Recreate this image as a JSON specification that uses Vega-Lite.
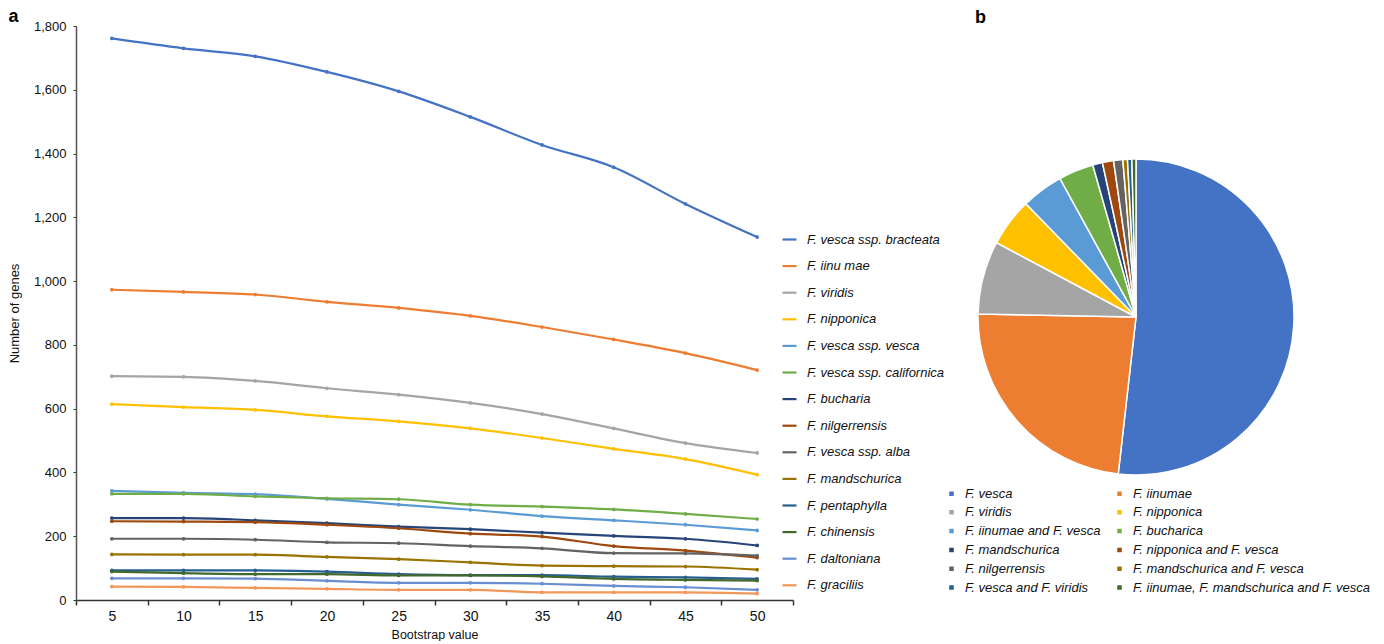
{
  "$schema": "https://vega.github.io/schema/vega-lite/v6.json",
  "padding": {"left": 8, "top": 8, "right": 0, "bottom": 0},
  "background": "white",
  "config": {"view": {"stroke": null}, "font": "Liberation Sans"},
  "bounds": "flush",
  "spacing": 185,
  "resolve": {"scale": {"color": "independent"}, "legend": {"color": "independent"}},
  "datasets": {
    "lines": [
      {"s":"F. vesca ssp. bracteata","b":5,"n":1761},{"s":"F. vesca ssp. bracteata","b":10,"n":1730},{"s":"F. vesca ssp. bracteata","b":15,"n":1705},{"s":"F. vesca ssp. bracteata","b":20,"n":1656},{"s":"F. vesca ssp. bracteata","b":25,"n":1595},{"s":"F. vesca ssp. bracteata","b":30,"n":1515},{"s":"F. vesca ssp. bracteata","b":35,"n":1427},{"s":"F. vesca ssp. bracteata","b":40,"n":1357},{"s":"F. vesca ssp. bracteata","b":45,"n":1242},{"s":"F. vesca ssp. bracteata","b":50,"n":1138},
      {"s":"F. iinu mae","b":5,"n":973},{"s":"F. iinu mae","b":10,"n":966},{"s":"F. iinu mae","b":15,"n":958},{"s":"F. iinu mae","b":20,"n":935},{"s":"F. iinu mae","b":25,"n":916},{"s":"F. iinu mae","b":30,"n":891},{"s":"F. iinu mae","b":35,"n":856},{"s":"F. iinu mae","b":40,"n":817},{"s":"F. iinu mae","b":45,"n":774},{"s":"F. iinu mae","b":50,"n":721},
      {"s":"F. viridis","b":5,"n":702},{"s":"F. viridis","b":10,"n":700},{"s":"F. viridis","b":15,"n":687},{"s":"F. viridis","b":20,"n":664},{"s":"F. viridis","b":25,"n":644},{"s":"F. viridis","b":30,"n":618},{"s":"F. viridis","b":35,"n":583},{"s":"F. viridis","b":40,"n":538},{"s":"F. viridis","b":45,"n":492},{"s":"F. viridis","b":50,"n":461},
      {"s":"F. nipponica","b":5,"n":614},{"s":"F. nipponica","b":10,"n":605},{"s":"F. nipponica","b":15,"n":596},{"s":"F. nipponica","b":20,"n":576},{"s":"F. nipponica","b":25,"n":560},{"s":"F. nipponica","b":30,"n":538},{"s":"F. nipponica","b":35,"n":508},{"s":"F. nipponica","b":40,"n":474},{"s":"F. nipponica","b":45,"n":442},{"s":"F. nipponica","b":50,"n":393},
      {"s":"F. vesca ssp. vesca","b":5,"n":342},{"s":"F. vesca ssp. vesca","b":10,"n":336},{"s":"F. vesca ssp. vesca","b":15,"n":332},{"s":"F. vesca ssp. vesca","b":20,"n":317},{"s":"F. vesca ssp. vesca","b":25,"n":299},{"s":"F. vesca ssp. vesca","b":30,"n":283},{"s":"F. vesca ssp. vesca","b":35,"n":263},{"s":"F. vesca ssp. vesca","b":40,"n":250},{"s":"F. vesca ssp. vesca","b":45,"n":236},{"s":"F. vesca ssp. vesca","b":50,"n":218},
      {"s":"F. vesca ssp. californica","b":5,"n":333},{"s":"F. vesca ssp. californica","b":10,"n":333},{"s":"F. vesca ssp. californica","b":15,"n":325},{"s":"F. vesca ssp. californica","b":20,"n":319},{"s":"F. vesca ssp. californica","b":25,"n":316},{"s":"F. vesca ssp. californica","b":30,"n":299},{"s":"F. vesca ssp. californica","b":35,"n":293},{"s":"F. vesca ssp. californica","b":40,"n":284},{"s":"F. vesca ssp. californica","b":45,"n":270},{"s":"F. vesca ssp. californica","b":50,"n":254},
      {"s":"F. bucharia","b":5,"n":257},{"s":"F. bucharia","b":10,"n":257},{"s":"F. bucharia","b":15,"n":250},{"s":"F. bucharia","b":20,"n":241},{"s":"F. bucharia","b":25,"n":230},{"s":"F. bucharia","b":30,"n":222},{"s":"F. bucharia","b":35,"n":211},{"s":"F. bucharia","b":40,"n":201},{"s":"F. bucharia","b":45,"n":192},{"s":"F. bucharia","b":50,"n":171},
      {"s":"F. nilgerrensis","b":5,"n":247},{"s":"F. nilgerrensis","b":10,"n":246},{"s":"F. nilgerrensis","b":15,"n":244},{"s":"F. nilgerrensis","b":20,"n":236},{"s":"F. nilgerrensis","b":25,"n":225},{"s":"F. nilgerrensis","b":30,"n":208},{"s":"F. nilgerrensis","b":35,"n":199},{"s":"F. nilgerrensis","b":40,"n":169},{"s":"F. nilgerrensis","b":45,"n":155},{"s":"F. nilgerrensis","b":50,"n":133},
      {"s":"F. vesca ssp. alba","b":5,"n":192},{"s":"F. vesca ssp. alba","b":10,"n":192},{"s":"F. vesca ssp. alba","b":15,"n":189},{"s":"F. vesca ssp. alba","b":20,"n":181},{"s":"F. vesca ssp. alba","b":25,"n":178},{"s":"F. vesca ssp. alba","b":30,"n":169},{"s":"F. vesca ssp. alba","b":35,"n":162},{"s":"F. vesca ssp. alba","b":40,"n":147},{"s":"F. vesca ssp. alba","b":45,"n":146},{"s":"F. vesca ssp. alba","b":50,"n":139},
      {"s":"F. mandschurica","b":5,"n":143},{"s":"F. mandschurica","b":10,"n":142},{"s":"F. mandschurica","b":15,"n":142},{"s":"F. mandschurica","b":20,"n":135},{"s":"F. mandschurica","b":25,"n":128},{"s":"F. mandschurica","b":30,"n":118},{"s":"F. mandschurica","b":35,"n":108},{"s":"F. mandschurica","b":40,"n":106},{"s":"F. mandschurica","b":45,"n":105},{"s":"F. mandschurica","b":50,"n":95},
      {"s":"F. pentaphylla","b":5,"n":93},{"s":"F. pentaphylla","b":10,"n":93},{"s":"F. pentaphylla","b":15,"n":93},{"s":"F. pentaphylla","b":20,"n":89},{"s":"F. pentaphylla","b":25,"n":81},{"s":"F. pentaphylla","b":30,"n":78},{"s":"F. pentaphylla","b":35,"n":78},{"s":"F. pentaphylla","b":40,"n":73},{"s":"F. pentaphylla","b":45,"n":71},{"s":"F. pentaphylla","b":50,"n":66},
      {"s":"F. chinensis","b":5,"n":89},{"s":"F. chinensis","b":10,"n":84},{"s":"F. chinensis","b":15,"n":81},{"s":"F. chinensis","b":20,"n":81},{"s":"F. chinensis","b":25,"n":77},{"s":"F. chinensis","b":30,"n":77},{"s":"F. chinensis","b":35,"n":74},{"s":"F. chinensis","b":40,"n":66},{"s":"F. chinensis","b":45,"n":63},{"s":"F. chinensis","b":50,"n":61},
      {"s":"F. daltoniana","b":5,"n":68},{"s":"F. daltoniana","b":10,"n":68},{"s":"F. daltoniana","b":15,"n":67},{"s":"F. daltoniana","b":20,"n":60},{"s":"F. daltoniana","b":25,"n":54},{"s":"F. daltoniana","b":30,"n":54},{"s":"F. daltoniana","b":35,"n":51},{"s":"F. daltoniana","b":40,"n":44},{"s":"F. daltoniana","b":45,"n":40},{"s":"F. daltoniana","b":50,"n":32},
      {"s":"F. graciliis","b":5,"n":42},{"s":"F. graciliis","b":10,"n":41},{"s":"F. graciliis","b":15,"n":38},{"s":"F. graciliis","b":20,"n":35},{"s":"F. graciliis","b":25,"n":32},{"s":"F. graciliis","b":30,"n":32},{"s":"F. graciliis","b":35,"n":24},{"s":"F. graciliis","b":40,"n":24},{"s":"F. graciliis","b":45,"n":24},{"s":"F. graciliis","b":50,"n":20}
    ],
    "pie": [
      {"c":"F. vesca","v":51.8,"i":1},
      {"c":"F. iinumae","v":23.5,"i":2},
      {"c":"F. viridis","v":7.5,"i":3},
      {"c":"F. nipponica","v":4.94,"i":4},
      {"c":"F. iinumae and F. vesca","v":4.28,"i":5},
      {"c":"F. bucharica","v":3.58,"i":6},
      {"c":"F. mandschurica","v":1.0,"i":7},
      {"c":"F. nipponica and F. vesca","v":1.14,"i":8},
      {"c":"F. nilgerrensis","v":0.94,"i":9},
      {"c":"F. mandschurica and F. vesca","v":0.47,"i":10},
      {"c":"F. vesca and F. viridis","v":0.44,"i":11},
      {"c":"F. iinumae, F. mandschurica and F. vesca","v":0.42,"i":12}
    ]
  },
  "hconcat": [
    {
      "width": 717,
      "height": 574,
      "title": {"text": "a", "anchor": "start", "frame": "bounds", "fontSize": 18, "fontWeight": "bold", "color": "#000", "offset": -6},
      "data": {"name": "lines"},
      "mark": {"type": "line", "interpolate": "monotone", "strokeWidth": 2.2, "point": {"size": 14, "filled": true}},
      "encoding": {
        "x": {
          "field": "b", "type": "ordinal",
          "scale": {"type": "band", "paddingInner": 0, "paddingOuter": 0},
          "bandPosition": 0.5,
          "axis": {"title": "Bootstrap value", "labelAngle": 0, "tickBand": "extent", "tickSize": 5, "tickColor": "#333", "domainColor": "#333", "domainWidth": 1.5, "tickWidth": 1.5, "labelFontSize": 14, "labelColor": "#111", "labelPadding": 4, "titleFontSize": 12.5, "titleFontWeight": "normal", "titleColor": "#111", "titlePadding": 5, "grid": false}
        },
        "y": {
          "field": "n", "type": "quantitative",
          "scale": {"domain": [0, 1800], "nice": false},
          "axis": {"title": "Number of genes", "values": [0, 200, 400, 600, 800, 1000, 1200, 1400, 1600, 1800], "format": ",d", "grid": false, "tickSize": 3, "tickColor": "#333", "domainColor": "#555", "domainWidth": 1.5, "labelFontSize": 13, "labelColor": "#111", "labelPadding": 7, "titleFontSize": 13, "titleFontWeight": "normal", "titleColor": "#111", "titlePadding": 12}
        },
        "color": {
          "field": "s", "type": "nominal",
          "scale": {
            "domain": ["F. vesca ssp. bracteata", "F. iinu mae", "F. viridis", "F. nipponica", "F. vesca ssp. vesca", "F. vesca ssp. californica", "F. bucharia", "F. nilgerrensis", "F. vesca ssp. alba", "F. mandschurica", "F. pentaphylla", "F. chinensis", "F. daltoniana", "F. graciliis"],
            "range": ["#4472C4", "#ED7D31", "#A5A5A5", "#FFC000", "#5B9BD5", "#70AD47", "#264478", "#9E480E", "#636363", "#997300", "#255E91", "#43682B", "#698ED0", "#F1975A"]
          },
          "legend": {"orient": "none", "legendX": 705, "legendY": 205, "title": null, "padding": 0, "symbolType": "stroke", "symbolSize": 196, "symbolStrokeWidth": 2.2, "labelFontSize": 13, "labelFontStyle": "italic", "labelColor": "#111", "labelOffset": 9, "rowPadding": 10.6, "labelLimit": 300}
        }
      }
    },
    {
      "width": 316,
      "height": 582,
      "title": {"text": "b", "anchor": "start", "frame": "group", "fontSize": 18, "fontWeight": "bold", "color": "#000", "offset": -1, "dx": -3},
      "data": {"name": "pie"},
      "mark": {"type": "arc", "radius": 158, "stroke": "white", "strokeWidth": 1.5},
      "encoding": {
        "theta": {"field": "v", "type": "quantitative", "stack": true},
        "order": {"field": "i", "type": "quantitative"},
        "color": {
          "field": "c", "type": "nominal",
          "scale": {
            "domain": ["F. vesca", "F. viridis", "F. iinumae and F. vesca", "F. mandschurica", "F. nilgerrensis", "F. vesca and F. viridis", "F. iinumae", "F. nipponica", "F. bucharica", "F. nipponica and F. vesca", "F. mandschurica and F. vesca", "F. iinumae, F. mandschurica and F. vesca"],
            "range": ["#4472C4", "#A5A5A5", "#5B9BD5", "#264478", "#636363", "#255E91", "#ED7D31", "#FFC000", "#70AD47", "#9E480E", "#997300", "#43682B"]
          },
          "legend": {"orient": "none", "legendX": -33, "legendY": 461, "columns": 2, "columnPadding": 12, "title": null, "padding": 0, "symbolType": "square", "symbolSize": 36, "labelFontSize": 13, "labelFontStyle": "italic", "labelColor": "#111", "labelOffset": 7, "rowPadding": 4.8, "labelLimit": 400}
        }
      }
    }
  ]
}
